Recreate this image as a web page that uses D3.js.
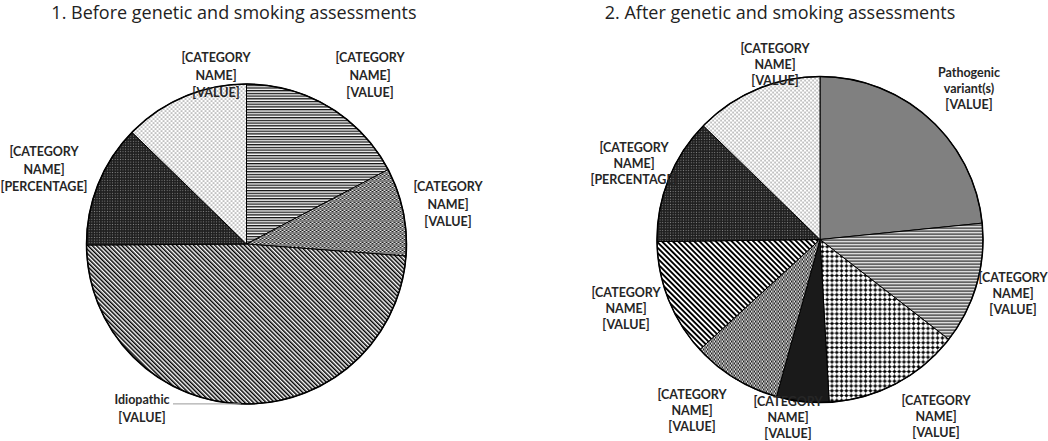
<!DOCTYPE html>
<html>
<head>
<meta charset="utf-8">
<script src="https://cdn.jsdelivr.net/npm/d3@7"></script>
<style>
  body { margin: 0; background: #fff; }
  .title { font-family: "Open Sans", sans-serif; font-size: 18px; fill: #222; }
  .lbl { font-family: Lato, "Open Sans", sans-serif; font-weight: bold; font-size: 12.5px; fill: #262626; }
</style>
</head>
<body>
<svg id="chart" width="1048" height="441"></svg>
<script>
// chart 1: before assessments
const beforeCats = ["Category A", "Category B", "Idiopathic", "Category D", "Category E"];
const beforeVals = [17.3, 8.9, 48.7, 12.4, 12.7];
const beforeText = [
    ["[CATEGORY", "NAME]", "[VALUE]"],
    ["[CATEGORY", "NAME]", "[VALUE]"],
    ["Idiopathic", "[VALUE]"],
    ["[CATEGORY", "NAME]", "[PERCENTAGE]"],
    ["[CATEGORY", "NAME]", "[VALUE]"]
];
const beforeFills = ["hlines", "fineDots", "diagThin", "darkDots", "lightDots"];

// chart 2: after assessments
const afterCats = ["Pathogenic variant(s)", "Category A", "Category F", "Category G", "Category B", "Category H", "Category D", "Category E"];
const afterVals = [23.4, 12.1, 13.6, 5.2, 8.9, 11.6, 12.5, 12.7];
const afterText = [
    ["Pathogenic", "variant(s)", "[VALUE]"],
    ["[CATEGORY", "NAME]", "[VALUE]"],
    ["[CATEGORY", "NAME]", "[VALUE]"],
    ["[CATEGORY", "NAME]", "[VALUE]"],
    ["[CATEGORY", "NAME]", "[VALUE]"],
    ["[CATEGORY", "NAME]", "[VALUE]"],
    ["[CATEGORY", "NAME]", "[PERCENTAGE]"],
    ["[CATEGORY", "NAME]", "[VALUE]"]
];
const afterFills = ["solidGray", "hlines2", "grid", "solidBlack", "fineDots", "diagThick", "darkDots", "lightDots"];

const svg = d3.select('#chart');
const defs = svg.append('defs');

// ---- fill patterns ----
function pattern(id, w, h, transform) {
    let p = defs.append('pattern')
                .attr('id', id)
                .attr('patternUnits', 'userSpaceOnUse')
                .attr('width', w)
                .attr('height', h);
    if (transform) p.attr('patternTransform', transform);
    return p;
}

let p = pattern('hlines', 4, 2.7);
p.append('rect').attr('width', 4).attr('height', 2.7).attr('fill', '#fff');
p.append('rect').attr('width', 4).attr('height', 1.3).attr('fill', '#111');

p = pattern('hlines2', 4, 3);
p.append('rect').attr('width', 4).attr('height', 3).attr('fill', '#fff');
p.append('rect').attr('width', 4).attr('height', 1.3).attr('fill', '#111');

p = pattern('fineDots', 4, 4);
p.append('rect').attr('width', 4).attr('height', 4).attr('fill', '#e0e0e0');
[[0, 0], [2, 0], [1, 1], [3, 1], [3, 2], [0, 2], [2, 3], [1, 3]].forEach(function(d) {
    p.append('rect').attr('x', d[0]).attr('y', d[1]).attr('width', 1).attr('height', 1).attr('fill', '#222');
});

p = pattern('diagThin', 3, 3, 'rotate(-45)');
p.append('rect').attr('width', 3).attr('height', 3).attr('fill', '#fff');
p.append('rect').attr('width', 1.5).attr('height', 3).attr('fill', '#000');

p = pattern('diagThick', 3.8, 3.8, 'rotate(-45)');
p.append('rect').attr('width', 3.8).attr('height', 3.8).attr('fill', '#fff');
p.append('rect').attr('width', 1.9).attr('height', 3.8).attr('fill', '#000');

p = pattern('darkDots', 2.6, 2.6);
p.append('rect').attr('width', 2.6).attr('height', 2.6).attr('fill', '#1e1e1e');
p.append('rect').attr('x', 0.8).attr('y', 0.8).attr('width', 1).attr('height', 1).attr('fill', '#8a8a8a');

p = pattern('lightDots', 4, 4);
p.append('rect').attr('width', 4).attr('height', 4).attr('fill', '#fff');
p.append('rect').attr('x', 0.4).attr('y', 0.4).attr('width', 1.3).attr('height', 1.3).attr('fill', '#777');
p.append('rect').attr('x', 2.4).attr('y', 2.4).attr('width', 1.3).attr('height', 1.3).attr('fill', '#777');

p = pattern('grid', 4.8, 4.8);
p.append('rect').attr('width', 4.8).attr('height', 4.8).attr('fill', '#fff');
p.append('rect').attr('x', 0).attr('y', 2.1).attr('width', 4.8).attr('height', 0.6).attr('fill', '#222');
p.append('rect').attr('x', 2.1).attr('y', 0).attr('width', 0.6).attr('height', 4.8).attr('fill', '#222');
p.append('circle').attr('cx', 2.4).attr('cy', 2.4).attr('r', 1.5).attr('fill', '#000');

const solid = { solidGray: '#808080', solidBlack: '#1a1a1a' };
function fillOf(key) {
    return solid[key] ? solid[key] : 'url(#' + key + ')';
}

// ---- one pie ----
function drawPie(opt) {
    let g = svg.append('g').attr('transform', 'translate(' + opt.cx + ',' + opt.cy + ')');

    let pie = d3.pie().sort(null).value(d => d.value);
    let arc = d3.arc().innerRadius(0).outerRadius(opt.r);
    let rows = opt.cats.map((c, i) => ({ cat: c, value: opt.vals[i], fill: opt.fills[i], text: opt.text[i] }));
    let arcs = pie(rows);

    g.selectAll('path.slice')
        .data(arcs)
        .enter()
        .append('path')
        .classed('slice', true)
        .attr('d', arc)
        .attr('fill', d => fillOf(d.data.fill))
        .attr('stroke', '#000')
        .attr('stroke-width', 1);

    g.append('circle')
        .attr('r', opt.r)
        .attr('fill', 'none')
        .attr('stroke', '#000')
        .attr('stroke-width', 1.5);

    let fs = 12.5;
    arcs.forEach(function(d, i) {
        let at = opt.labelAt[i];
        let n = d.data.text.length;
        let t = g.append('text')
                 .classed('lbl', true)
                 .attr('text-anchor', 'middle');
        d.data.text.forEach(function(line, k) {
            t.append('tspan')
             .attr('x', at[0])
             .attr('y', at[1] + (k - (n - 1) / 2) * opt.lineH + fs * 0.36)
             .text(line);
        });
        // leader line from the label to the middle of its slice edge
        if (opt.leader && opt.leader[i]) {
            let a = (d.startAngle + d.endAngle) / 2;
            let ex = Math.sin(a) * opt.r, ey = -Math.cos(a) * opt.r;
            g.append('line')
             .attr('x1', at[0] + opt.leader[i])
             .attr('y1', ey)
             .attr('x2', ex)
             .attr('y2', ey)
             .attr('stroke', '#999')
             .attr('stroke-width', 1);
        }
    });

    svg.append('text')
        .classed('title', true)
        .attr('x', opt.titleX)
        .attr('y', 18.5)
        .attr('text-anchor', 'middle')
        .text(opt.title);
}

drawPie({
    title: '1. Before genetic and smoking assessments',
    titleX: 234,
    cx: 246.5, cy: 244, r: 160,
    cats: beforeCats, vals: beforeVals, fills: beforeFills, text: beforeText,
    lineH: 17.5,
    labelAt: [[123.5, -169], [201.5, -40], [-104.5, 164.5], [-202.5, -75], [-30.5, -169]],
    leader: [0, 0, 31, 0, 0]
});

drawPie({
    title: '2. After genetic and smoking assessments',
    titleX: 780,
    cx: 820, cy: 239.5, r: 163,
    cats: afterCats, vals: afterVals, fills: afterFills, text: afterText,
    lineH: 16,
    labelAt: [[149, -151.5], [193, 53.5], [116, 176.5], [-32, 177.5], [-128, 170.5], [-194, 68.5], [-186, -76.5], [-45, -175.5]]
});
</script>
</body>
</html>
